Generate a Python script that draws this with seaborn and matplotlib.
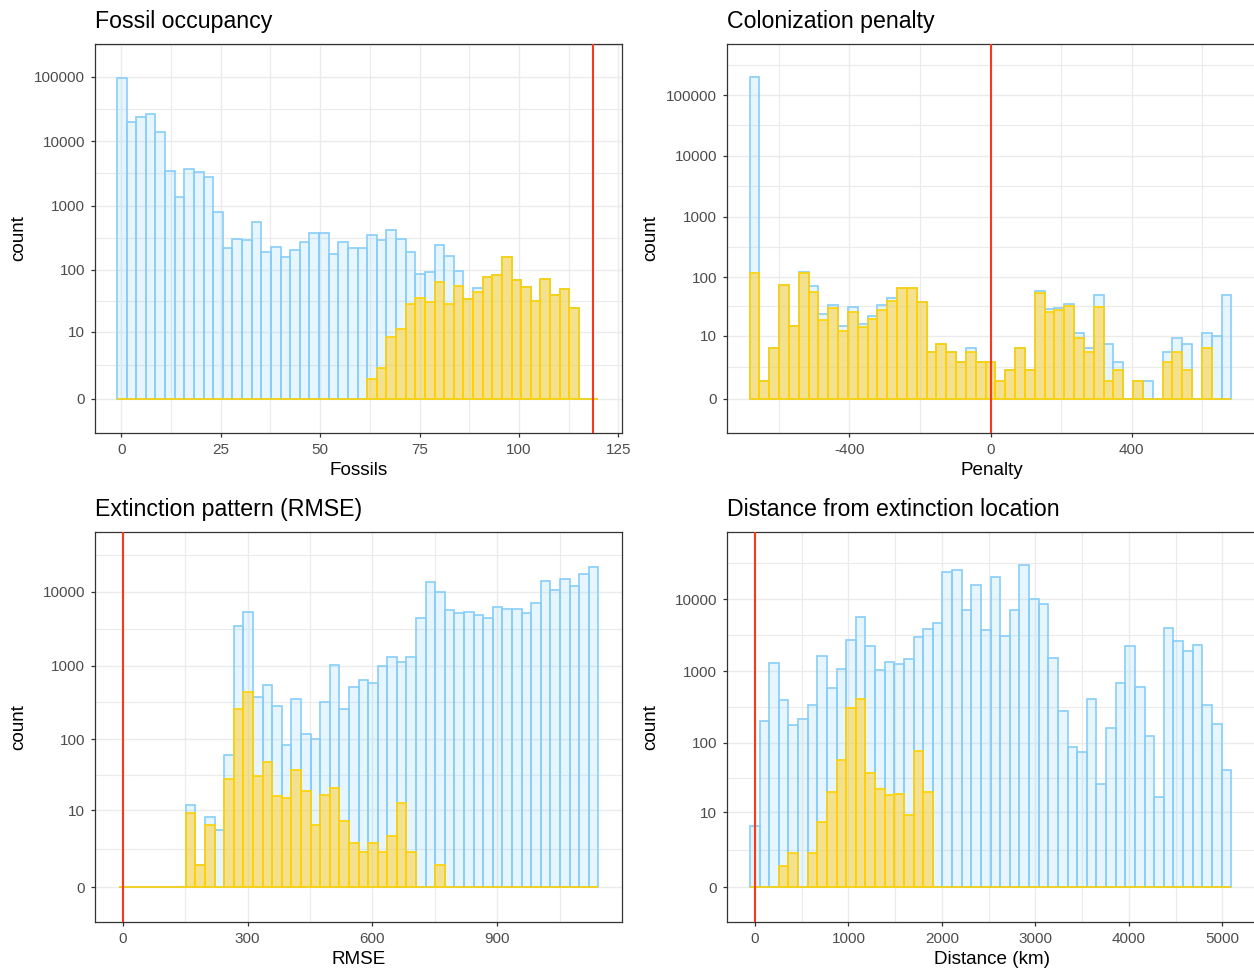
import numpy as np
import pandas as pd
import matplotlib
matplotlib.use("Agg")
import matplotlib.pyplot as plt
import seaborn as sns
from matplotlib.ticker import FixedLocator, FixedFormatter, NullFormatter

# ---------------------------------------------------------------------------
# Histogram counts (all simulations vs. accepted simulations) per bin
# ---------------------------------------------------------------------------

# Fossil occupancy: 50 bins
fossil_lo, fossil_width = -1.1, 2.42
fossil_all = [95000, 20000, 24000, 26300, 13700, 3500, 1350, 3700, 3300, 2800,
              800, 220, 300, 290, 560, 190, 230, 160, 203, 275,
              370, 380, 177, 275, 220, 220, 348, 287, 415, 300,
              189, 85, 91, 240, 162, 95, 35, 52, 78, 84,
              156, 70, 53, 32, 72, 40, 50, 25, 0, 0]
fossil_sel = [0, 0, 0, 0, 0, 0, 0, 0, 0, 0,
              0, 0, 0, 0, 0, 0, 0, 0, 0, 0,
              0, 0, 0, 0, 0, 0, 1, 2, 8, 11,
              29, 36, 31, 65, 29, 55, 34, 44, 78, 84,
              156, 70, 53, 32, 72, 40, 50, 25, 0, 0]
fossil_obs = 118.6

# Colonization penalty: 49 bins, centred on zero
penalty_lo, penalty_width = -683.06, 27.88
penalty_all = [198000, 1, 6, 75, 15, 124, 71, 24, 34, 15,
               32, 16, 22, 34, 44, 66, 66, 39, 5, 7,
               5, 3, 6, 3, 3, 1, 2, 6, 2, 58,
               29, 30, 36, 11, 6, 50, 7, 3, 0, 1,
               1, 0, 5, 9, 7, 0, 11, 10, 50]
penalty_sel = [117, 1, 6, 75, 15, 117, 56, 19, 30, 12,
               26, 14, 20, 28, 40, 66, 66, 39, 5, 7,
               5, 3, 5, 3, 3, 1, 2, 6, 2, 54,
               26, 28, 33, 9, 5, 32, 1, 2, 0, 1,
               0, 0, 3, 5, 2, 0, 6, 0, 0]
penalty_obs = 0

# Extinction pattern (RMSE): 50 bins
rmse_lo, rmse_width = -10.1, 23.06
rmse_all = [0, 0, 0, 0, 0, 0, 0, 12, 1, 8,
            5, 60, 3400, 5400, 380, 545, 283, 83, 354, 117,
            102, 323, 1020, 256, 510, 630, 590, 980, 1320, 1120,
            1290, 4400, 13500, 9900, 5750, 5100, 5350, 4900, 4400, 6300,
            5900, 5900, 5100, 7000, 13800, 10600, 14800, 12000, 17500, 22000]
rmse_sel = [0, 0, 0, 0, 0, 0, 0, 9, 1, 6,
            0, 28, 256, 437, 31, 49, 16, 15, 38, 19,
            6, 17, 21, 7, 3, 2, 3, 2, 4, 13,
            2, 0, 0, 1, 0, 0, 0, 0, 0, 0,
            0, 0, 0, 0, 0, 0, 0, 0, 0, 0]
rmse_obs = 0

# Distance from extinction location (km): 50 bins
dist_lo, dist_width = -55.0, 103.0
dist_all = [6, 200, 1290, 395, 177, 218, 333, 1620, 575, 1060,
            2690, 5700, 2230, 1040, 1340, 1260, 1460, 2940, 3880, 4640,
            23500, 25600, 7040, 15700, 3730, 20000, 3090, 7100, 29700, 10000,
            8600, 1540, 280, 88, 74, 412, 26, 160, 675, 2210,
            610, 126, 17, 3960, 2630, 1910, 2300, 338, 181, 41]
dist_sel = [0, 0, 0, 1, 2, 0, 2, 7, 20, 58,
            306, 405, 38, 22, 18, 19, 9, 77, 20, 0,
            0, 0, 0, 0, 0, 0, 0, 0, 0, 0,
            0, 0, 0, 0, 0, 0, 0, 0, 0, 0,
            0, 0, 0, 0, 0, 0, 0, 0, 0, 0]
dist_obs = 0

count_breaks = [0, 10, 100, 1000, 10000, 100000]
count_labels = ["0", "10", "100", "1000", "10000", "100000"]

# ---------------------------------------------------------------------------
# Styling
# ---------------------------------------------------------------------------
sns.set_theme(style="white")
plt.rcParams["font.family"] = ["Liberation Sans", "DejaVu Sans"]

BLUE_FILL = (135 / 255, 206 / 255, 250 / 255, 0.2)
BLUE_EDGE = "#87CEFA"
GOLD_FILL = (1.0, 207 / 255, 36 / 255, 0.5)
GOLD_EDGE = "#FFD200"
RED = "#F8391E"
GRID = "#EBEBEB"
FRAME = "#333333"
TICK_TXT = "#4D4D4D"


def fwd(y):
    y = np.asarray(y, dtype=float)
    return np.log10(np.maximum(y, -0.999999) + 1.0)


def inv(v):
    return 10.0 ** np.asarray(v, dtype=float) - 1.0


W, H = 1254, 969
fig = plt.figure(figsize=(W / 100, H / 100), dpi=100)


def panel(px_left, px_right, px_top, px_bottom, lo, width, all_counts, sel_counts,
          obs, xlim, ylim_t, xmajor, xminor, ymax_break, title, xlabel):
    pw = px_right - px_left
    ph = px_bottom - px_top
    ax = fig.add_axes([px_left / W, 1 - px_bottom / H, pw / W, ph / H])
    n = len(all_counts)
    edges = [lo + width * k for k in range(n + 1)]
    centers = [0.5 * (a + b) for a, b in zip(edges[:-1], edges[1:])]
    df = pd.DataFrame({"x": centers, "all": all_counts, "sel": sel_counts})

    sns.histplot(data=df, x="x", weights="all", bins=edges, ax=ax,
                 facecolor=BLUE_FILL, edgecolor=BLUE_EDGE, linewidth=1.2, zorder=2)
    sns.histplot(data=df, x="x", weights="sel", bins=edges, ax=ax,
                 facecolor=GOLD_FILL, edgecolor=GOLD_EDGE, linewidth=1.2, zorder=3)
    ax.axvline(obs, color=RED, lw=1.5, zorder=4)

    ax.set_yscale("function", functions=(fwd, inv))
    ax.set_xlim(*xlim)
    ax.set_ylim(float(inv(ylim_t[0])), float(inv(ylim_t[1])))

    # ticks and grid
    breaks = [b for b in count_breaks if b <= ymax_break]
    labels = count_labels[:len(breaks)]
    ax.yaxis.set_major_locator(FixedLocator(breaks))
    ax.yaxis.set_major_formatter(FixedFormatter(labels))
    tb = [float(fwd(b)) for b in breaks]
    ymin_t = [(a + b) / 2 for a, b in zip(tb[:-1], tb[1:])]
    ymin_t.append(tb[-1] + 0.5)
    ax.yaxis.set_minor_locator(FixedLocator([float(inv(v)) for v in ymin_t]))
    ax.yaxis.set_minor_formatter(NullFormatter())

    ax.xaxis.set_major_locator(FixedLocator(xmajor))
    ax.xaxis.set_major_formatter(FixedFormatter([f"{v:g}" for v in xmajor]))
    ax.xaxis.set_minor_locator(FixedLocator(xminor))
    ax.xaxis.set_minor_formatter(NullFormatter())

    ax.grid(True, which="major", color=GRID, lw=1.0, zorder=0)
    ax.grid(True, which="minor", color=GRID, lw=0.8, zorder=0)
    ax.set_axisbelow(True)

    ax.tick_params(axis="both", which="major", direction="out", length=3.2,
                   width=0.9, color=FRAME, labelsize=11, labelcolor=TICK_TXT,
                   pad=3.8, bottom=True, left=True)
    ax.tick_params(axis="both", which="minor", length=0)
    for sp in ax.spines.values():
        sp.set_color(FRAME)
        sp.set_linewidth(0.9)

    ax.set_title(title, loc="left", fontsize=16.7, color="black", pad=11.5)
    ax.set_xlabel(xlabel, fontsize=13.6, color="black")
    ax.set_ylabel("count", fontsize=13.6, color="black")
    ax.yaxis.set_label_coords(-68 / pw, 0.5)
    ax.xaxis.set_label_coords(0.5, -29 / ph)
    return ax


panel(95, 622, 44, 433, fossil_lo, fossil_width, fossil_all, fossil_sel,
      fossil_obs, (-6.6, 125.9), (-0.53, 5.51),
      [0, 25, 50, 75, 100, 125], [12.5, 37.5, 62.5, 87.5, 112.5],
      100000, "Fossil occupancy", "Fossils")

panel(727, 1256, 44, 433, penalty_lo, penalty_width, penalty_all, penalty_sel,
      penalty_obs, (-747.2, 752.6), (-0.56, 5.84),
      [-400, 0, 400], [-600, -200, 200, 600],
      100000, "Colonization penalty", "Penalty")

panel(95, 622, 532, 922, rmse_lo, rmse_width, rmse_all, rmse_sel,
      rmse_obs, (-66.7, 1199.5), (-0.47, 4.81),
      [0, 300, 600, 900], [150, 450, 750, 1050],
      10000, "Extinction pattern (RMSE)", "RMSE")

panel(727, 1256, 532, 922, dist_lo, dist_width, dist_all, dist_sel,
      dist_obs, (-300, 5361), (-0.48, 4.93),
      [0, 1000, 2000, 3000, 4000, 5000], [500, 1500, 2500, 3500, 4500],
      10000, "Distance from extinction location", "Distance (km)")

fig.savefig("out.png", dpi=100)
